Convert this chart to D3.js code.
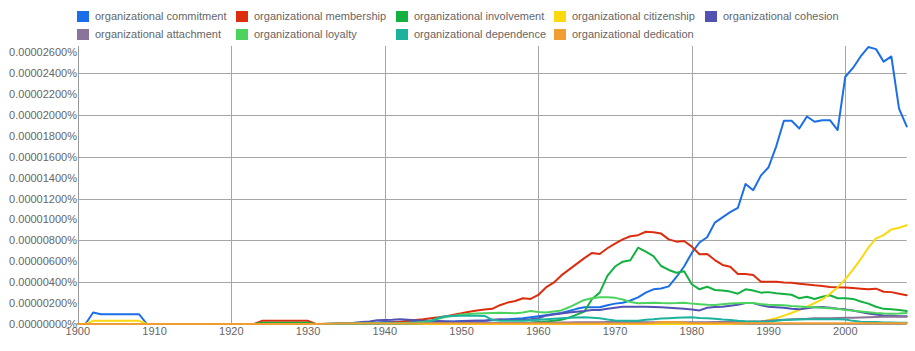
<!DOCTYPE html>
<html><head><meta charset="utf-8">
<script src="https://cdn.jsdelivr.net/npm/d3@7/dist/d3.min.js"></script>
<style>
html,body{margin:0;padding:0;background:#fff;}
svg{display:block;font-family:"Liberation Sans",Arial,Helvetica,sans-serif;}
</style></head>
<body>
<svg id="chart" width="915" height="351"></svg>
<script>
// Years 1900..2008
const years = d3.range(1900, 2009);
const yTicks = [0,2,4,6,8,10,12,14,16,18,20,22,24,26]; // in units of 0.000001 %
const xTicks = [1900,1910,1920,1930,1940,1950,1960,1970,1980,1990,2000];

const seriesNames = [
  "organizational commitment","organizational membership","organizational involvement",
  "organizational citizenship","organizational cohesion","organizational attachment",
  "organizational loyalty","organizational dependence","organizational dedication"
];
const seriesColors = ["#1c6ee8","#dc2d0f","#14b141","#fbd90c","#5252b2","#8a7499","#4bd35e","#1cb29e","#f29d32"];

const zeros10 = [0,0,0,0,0,0,0,0,0,0];

const commitment = [
  0,0,1.1,0.93,0.93,0.93,0.93,0.93,0.93,0,
  ...zeros10,
  ...zeros10,
  0,0,0,0.02,0.05,0.05,0.08,0.1,0.12,0.15,
  0.18,0.2,0.2,0.22,0.2,0.2,0.22,0.25,0.25,0.25,
  0.28,0.3,0.3,0.32,0.35,0.38,0.45,0.5,0.55,0.65,
  0.75,0.85,0.95,1.05,1.25,1.45,1.6,1.6,1.6,1.8,
  1.95,2.04,2.25,2.55,3.0,3.32,3.4,3.6,4.5,5.5,
  6.8,7.8,8.3,9.7,10.2,10.7,11.1,13.4,12.8,14.2,
  15.0,17.0,19.45,19.45,18.7,19.85,19.35,19.5,19.5,18.56,
  23.66,24.5,25.6,26.5,26.3,25.1,25.6,20.6,18.9
];
const membership = [
  ...zeros10,
  ...zeros10,
  0,0,0,0,0.3,0.3,0.3,0.3,0.3,0.3,
  0.3,0,0,0,0.03,0.05,0.05,0.08,0.1,0.1,
  0.12,0.15,0.2,0.3,0.38,0.45,0.55,0.64,0.75,0.88,
  1.02,1.18,1.3,1.38,1.45,1.8,2.05,2.2,2.46,2.4,
  2.78,3.5,3.95,4.65,5.2,5.75,6.3,6.8,6.7,7.25,
  7.7,8.1,8.4,8.5,8.83,8.78,8.65,8.1,7.88,7.94,
  7.4,6.67,6.7,6.12,5.65,5.48,4.78,4.78,4.69,4.05,
  4.05,4.05,3.98,3.95,3.85,3.78,3.7,3.64,3.55,3.51,
  3.5,3.45,3.38,3.32,3.38,3.09,3.05,2.9,2.75
];
const involvement = [
  ...zeros10,
  ...zeros10,
  0,0,0,0,0.12,0.12,0.12,0.12,0.12,0.12,
  0.12,0,0,0,0,0.02,0.03,0.03,0.05,0.05,
  0.05,0.05,0.05,0.05,0.05,0.06,0.06,0.06,0.07,0.07,
  0.08,0.08,0.08,0.09,0.09,0.1,0.1,0.1,0.12,0.15,
  0.2,0.25,0.3,0.4,0.6,0.9,1.2,2.4,3.0,4.6,
  5.5,5.96,6.1,7.3,6.92,6.5,5.55,5.17,4.91,5.05,
  3.8,3.32,3.57,3.25,3.2,3.1,2.9,3.32,3.2,3.0,
  3.05,2.95,2.87,2.8,2.46,2.6,2.4,2.6,2.75,2.46,
  2.46,2.4,2.15,1.95,1.65,1.45,1.42,1.35,1.24
];
const citizenship = [
  0,0,0.3,0.3,0.3,0.3,0.3,0.3,0.3,0,
  ...zeros10, ...zeros10, ...zeros10, ...zeros10, ...zeros10, ...zeros10, ...zeros10,
  0,0,0,0,0,0,0.05,0.08,0.12,0.22,
  0.38,0.55,0.8,1.05,1.35,1.65,2.0,2.35,2.9,3.5,
  4.3,5.2,6.2,7.3,8.2,8.5,9.05,9.2,9.45
];
const cohesion = [
  ...zeros10, ...zeros10, ...zeros10,
  0,0,0,0.02,0.05,0.08,0.12,0.18,0.25,0.35,
  0.38,0.4,0.45,0.4,0.35,0.32,0.3,0.28,0.25,0.22,
  0.25,0.28,0.3,0.32,0.4,0.45,0.4,0.38,0.4,0.45,
  0.55,0.8,0.9,1.0,1.1,1.18,1.25,1.34,1.34,1.45,
  1.55,1.66,1.66,1.66,1.64,1.62,1.6,1.55,1.5,1.45,
  1.38,1.3,1.55,1.62,1.66,1.75,1.85,2.0,2.0,1.8,
  1.65,1.6,1.55,1.45,1.4,1.5,1.6,1.62,1.55,1.45,
  1.4,1.3,1.15,1.0,0.9,0.82,0.78,0.75,0.75
];
const attachment = [
  ...zeros10, ...zeros10, ...zeros10,
  0,0,0,0,0,0.02,0.05,0.05,0.08,0.08,
  0.1,0.1,0.1,0.1,0.1,0.1,0.1,0.1,0.1,0.1,
  0.1,0.1,0.1,0.1,0.1,0.1,0.1,0.1,0.1,0.1,
  0.12,0.12,0.14,0.15,0.15,0.16,0.16,0.17,0.17,0.18,
  0.18,0.18,0.18,0.18,0.17,0.17,0.16,0.16,0.16,0.16,
  0.16,0.16,0.17,0.18,0.18,0.2,0.2,0.22,0.24,0.26,
  0.3,0.35,0.4,0.45,0.48,0.5,0.55,0.55,0.55,0.58,
  0.6,0.6,0.62,0.65,0.68,0.7,0.72,0.7,0.7
];
const loyalty = [
  ...zeros10, ...zeros10, ...zeros10,
  0,0,0,0.02,0.03,0.05,0.05,0.06,0.08,0.08,
  0.08,0.08,0.1,0.12,0.15,0.2,0.3,0.5,0.7,0.8,
  0.9,0.95,1.0,1.02,1.05,1.08,1.05,1.02,1.1,1.25,
  1.15,1.1,1.2,1.3,1.6,1.95,2.3,2.46,2.55,2.55,
  2.5,2.35,2.1,1.98,2.02,2.04,2.0,1.98,2.0,2.04,
  1.95,1.9,1.85,1.82,1.88,1.95,1.98,2.0,2.0,1.9,
  1.85,1.82,1.8,1.72,1.68,1.62,1.6,1.55,1.5,1.45,
  1.35,1.28,1.2,1.12,1.05,1.0,0.98,1.0,1.05
];
const dependence = [
  ...zeros10, ...zeros10, ...zeros10, ...zeros10,
  0.02,0.02,0.03,0.03,0.05,0.08,0.3,0.6,0.75,0.77,
  0.78,0.78,0.78,0.77,0.4,0.3,0.3,0.3,0.3,0.35,
  0.4,0.45,0.5,0.55,0.6,0.62,0.64,0.6,0.54,0.42,
  0.34,0.32,0.3,0.32,0.4,0.45,0.52,0.56,0.6,0.62,
  0.64,0.58,0.54,0.5,0.42,0.38,0.3,0.26,0.24,0.22,
  0.22,0.3,0.38,0.4,0.42,0.45,0.45,0.45,0.45,0.45,
  0.42,0.3,0.22,0.2,0.18,0.15,0.14,0.13,0.13
];
const dedication = [
  ...zeros10, ...zeros10, ...zeros10,
  0,0,0.02,0.03,0.05,0.05,0.05,0.05,0.05,0.05,
  0.05,0.05,0.05,0.05,0.05,0.05,0.05,0.05,0.05,0.05,
  0.05,0.05,0.05,0.05,0.05,0.05,0.05,0.05,0.05,0.05,
  0.05,0.05,0.05,0.05,0.05,0.05,0.05,0.05,0.05,0.05,
  0.05,0.05,0.05,0.05,0.05,0.1,0.18,0.2,0.2,0.15,
  0.06,0.06,0.06,0.06,0.06,0.06,0.06,0.06,0.06,0.06,
  0.06,0.06,0.06,0.06,0.06,0.06,0.06,0.06,0.06,0.06,
  0.06,0.06,0.06,0.06,0.06,0.06,0.06,0.06,0.06
];
const seriesValues = [commitment, membership, involvement, citizenship, cohesion, attachment, loyalty, dependence, dedication];

const svg = d3.select("#chart");
const x = d3.scaleLinear().domain([1900, 2008]).range([77.8, 906.7]);
const y = d3.scaleLinear().domain([0, 26.6]).range([324, 46]);
const textColor = "#666";
const gridColor = "#a6a6a6";

// gridlines
const gGrid = svg.append("g");
gGrid.selectAll("line.h").data(yTicks.filter(t => t > 0 && t % 4 === 0)).enter().append("line")
  .attr("x1", x(1900)).attr("x2", x(2008))
  .attr("y1", d => Math.round(y(d)) + 0.5).attr("y2", d => Math.round(y(d)) + 0.5)
  .attr("stroke", gridColor).attr("stroke-width", 1);
gGrid.selectAll("line.v").data([1920,1940,1960,1980,2000]).enter().append("line")
  .attr("x1", d => Math.round(x(d)) + 0.5).attr("x2", d => Math.round(x(d)) + 0.5)
  .attr("y1", y.range()[1]).attr("y2", y(0))
  .attr("stroke", gridColor).attr("stroke-width", 1);

// axes lines
svg.append("line").attr("x1", Math.round(x(1900)) + 0.5).attr("x2", Math.round(x(1900)) + 0.5)
  .attr("y1", y.range()[1]).attr("y2", y(0)).attr("stroke", "#999");
svg.append("line").attr("x1", x(1900)).attr("x2", x(2008))
  .attr("y1", Math.round(y(0)) + 0.5).attr("y2", Math.round(y(0)) + 0.5).attr("stroke", "#999");

// y labels
svg.append("g").selectAll("text").data(yTicks).enter().append("text")
  .attr("x", 77).attr("y", d => y(d) + 4)
  .attr("text-anchor", "end").attr("font-size", 11).attr("fill", textColor)
  .text(d => (d * 1e-6).toFixed(8) + "%");

// x labels
svg.append("g").selectAll("text").data(xTicks).enter().append("text")
  .attr("x", d => x(d)).attr("y", 334.5)
  .attr("text-anchor", "middle").attr("font-size", 11).attr("fill", textColor)
  .text(d => d);

// lines
const line = d3.line().x((d, i) => x(years[i])).y(d => y(d));
const gLines = svg.append("g");
seriesValues.forEach((vals, k) => {
  gLines.append("path").datum(vals)
    .attr("d", line).attr("fill", "none")
    .attr("stroke", seriesColors[k]).attr("stroke-width", 2)
    .attr("stroke-linejoin", "round").attr("stroke-linecap", "round");
});

// legend
const legendCols = [77, 236, 396, 554, 705];
const legendRows = [11, 29];
const gLeg = svg.append("g");
seriesNames.forEach((name, k) => {
  const col = k < 5 ? k : k - 5;
  const row = k < 5 ? 0 : 1;
  gLeg.append("rect").attr("x", legendCols[col]).attr("y", legendRows[row])
    .attr("width", 12).attr("height", 11).attr("fill", seriesColors[k]);
  gLeg.append("text").attr("x", legendCols[col] + 18).attr("y", legendRows[row] + 9)
    .attr("font-size", 11).attr("fill", textColor).text(name);
});
</script>
</body></html>
